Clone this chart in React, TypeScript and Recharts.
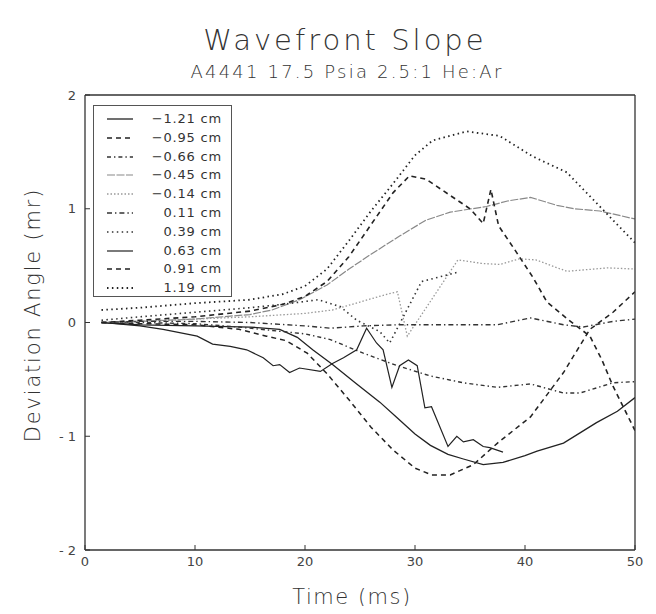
import React from 'react';
import { LineChart, Line, XAxis, YAxis } from 'recharts';

// ---------- data ----------
const xTicks = [0, 10, 20, 30, 40, 50];
const yTicks = [-2, -1, 0, 1, 2];
const seriesNames = ['−1.21 cm', '−0.95 cm', '−0.66 cm', '−0.45 cm', '−0.14 cm', '0.11 cm', '0.39 cm', '0.63 cm', '0.91 cm', '1.19 cm'];

// -1.21 cm (solid, smooth)
const tM121 = [1.5, 5, 10, 15, 17.7, 19.3, 20.7, 22.5, 24.7, 26.8, 28.4, 30, 31.4, 33, 34.4, 36.2, 38, 40, 41.1, 43.5, 45, 46.5, 48.4, 50];
const vM121 = [0, -0.02, -0.03, -0.04, -0.06, -0.13, -0.24, -0.37, -0.54, -0.7, -0.84, -0.98, -1.08, -1.16, -1.2, -1.25, -1.23, -1.17, -1.13, -1.06, -0.97, -0.88, -0.78, -0.66];
// -0.95 cm (dashed, bottom)
const tM095 = [1.5, 5, 10, 14, 16.5, 18.3, 20.2, 22, 24, 26, 28, 30, 31.5, 33.2, 35.3, 37.5, 40.5, 43.5, 45.9, 48, 50];
const vM095 = [0, -0.01, -0.02, -0.06, -0.12, -0.16, -0.27, -0.45, -0.68, -0.92, -1.12, -1.28, -1.34, -1.34, -1.25, -1.06, -0.83, -0.44, -0.06, 0.09, 0.27];
// -0.66 cm (down to -0.55)
const tM066 = [1.5, 5, 10, 14, 18, 20, 22.3, 25.3, 28.4, 31.4, 34.4, 37.5, 40.5, 43.5, 45, 48, 50];
const vM066 = [0, 0, -0.01, -0.04, -0.08, -0.1, -0.15, -0.27, -0.38, -0.47, -0.53, -0.57, -0.54, -0.62, -0.62, -0.53, -0.52];
// -0.45 cm (light)
const tM045 = [1.5, 5, 10, 15, 17, 19.5, 22, 24, 26, 28.6, 31, 33.2, 36.5, 38.5, 40.5, 42.9, 44.5, 46.8, 50];
const vM045 = [0, 0.01, 0.03, 0.07, 0.11, 0.2, 0.33, 0.47, 0.6, 0.76, 0.9, 0.97, 1.02, 1.07, 1.1, 1.03, 1.0, 0.98, 0.91];
// -0.14 cm (light dotted)
const tM014 = [1.5, 5, 10, 15, 20, 22.5, 25, 27.5, 28.4, 29.3, 33.9, 36, 37.7, 39.5, 41, 43.8, 47.5, 50];
const vM014 = [0, 0.01, 0.03, 0.05, 0.08, 0.11, 0.18, 0.25, 0.27, -0.12, 0.55, 0.52, 0.51, 0.56, 0.55, 0.45, 0.48, 0.47];
// 0.11 cm (dash-dot, near zero)
const tP011 = [1.5, 5, 10, 15, 20, 22.3, 25.3, 28.4, 32.9, 37.5, 40.5, 43.5, 45.3, 48, 50];
const vP011 = [0, 0.01, 0.01, 0, -0.03, -0.05, -0.03, -0.02, -0.02, -0.02, 0.04, -0.02, -0.04, 0.01, 0.03];
// 0.39 cm (dotted, zigzag)
const tP039 = [1.5, 5, 10, 15, 18, 21.2, 23.2, 24.7, 26.8, 27.7, 30.6, 33.8];
const vP039 = [0.02, 0.05, 0.09, 0.13, 0.16, 0.2, 0.14, 0.02, -0.08, -0.18, 0.36, 0.44];
// 0.63 cm (solid, jagged)
const tP063 = [1.5, 5, 7.1, 10.2, 11.6, 13.2, 14.7, 16.2, 17.1, 17.7, 18.6, 19.5, 21.4, 22.5, 23.5, 24.7, 25.6, 26.5, 27.1, 27.9, 28.6, 29.4, 30.2, 30.9, 31.5, 33, 33.8, 34.4, 35.3, 36.2, 36.8, 38];
const vP063 = [0, -0.03, -0.06, -0.12, -0.19, -0.21, -0.24, -0.31, -0.38, -0.37, -0.44, -0.4, -0.43, -0.36, -0.31, -0.24, -0.05, -0.18, -0.24, -0.57, -0.38, -0.33, -0.38, -0.75, -0.74, -1.09, -1.0, -1.05, -1.03, -1.09, -1.1, -1.14];
// 0.91 cm (dashed, peak 1.3)
const tP091 = [1.5, 5, 10, 15, 18, 20, 22, 24, 26, 28, 29.5, 31, 33, 35, 36.2, 36.9, 37.6, 39, 40.7, 42, 44, 45.9, 47, 48, 50];
const vP091 = [0, 0.02, 0.05, 0.1, 0.16, 0.23, 0.36, 0.58, 0.86, 1.14, 1.29, 1.26, 1.13, 1.0, 0.87, 1.17, 0.85, 0.65, 0.4, 0.18, 0.02, -0.12, -0.33, -0.56, -0.95];
// 1.19 cm (dotted, peak 1.7)
const tP119 = [1.5, 5, 10, 15, 18, 20, 22, 24, 26, 28, 30, 31.6, 34.7, 37.7, 40.7, 43.8, 46.8, 50];
const vP119 = [0.11, 0.13, 0.17, 0.2, 0.25, 0.32, 0.47, 0.72, 0.98, 1.22, 1.47, 1.6, 1.68, 1.64, 1.46, 1.32, 1.02, 0.7];

const zip = (t: number[], v: number[]) => t.map((x, i) => ({ t: x, v: v[i] }));

const DOT = '1.5 3.4';
const SERIES = [
  { name: seriesNames[0], data: zip(tM121, vM121), stroke: '#222', dash: undefined as string | undefined, w: 1.3 },
  { name: seriesNames[1], data: zip(tM095, vM095), stroke: '#222', dash: '5 4', w: 1.5 },
  { name: seriesNames[2], data: zip(tM066, vM066), stroke: '#333', dash: '4 3 1.4 3', w: 1.4 },
  { name: seriesNames[3], data: zip(tM045, vM045), stroke: '#888', dash: '8 1.5', w: 1.2 },
  { name: seriesNames[4], data: zip(tM014, vM014), stroke: '#999', dash: '1.5 2', w: 1.3 },
  { name: seriesNames[5], data: zip(tP011, vP011), stroke: '#333', dash: '5 3 1.4 3', w: 1.4 },
  { name: seriesNames[6], data: zip(tP039, vP039), stroke: '#333', dash: DOT, w: 1.6 },
  { name: seriesNames[7], data: zip(tP063, vP063), stroke: '#222', dash: undefined, w: 1.2 },
  { name: seriesNames[8], data: zip(tP091, vP091), stroke: '#222', dash: '5 4', w: 1.6 },
  { name: seriesNames[9], data: zip(tP119, vP119), stroke: '#222', dash: DOT, w: 1.8 },
];

const FONT = "'DejaVu Sans', 'Liberation Sans', sans-serif";
const yFmt = (v: number) => (v < 0 ? `- ${-v}` : `${v}`);
const AXIS_LINE = { stroke: '#333', strokeWidth: 1.3 };

export default function App() {
  return (
    <div style={{ position: 'relative', width: 648, height: 598, fontFamily: FONT, color: '#333' }}>
      <div style={{ position: 'absolute', left: 87, width: 500, top: 15, textAlign: 'center', fontSize: 29, lineHeight: '34px', letterSpacing: 3, fontWeight: 200 }}>
        Wavefront Slope
      </div>
      <div style={{ position: 'absolute', left: 39, width: 600, top: 53, textAlign: 'center', fontSize: 18, lineHeight: '22px', letterSpacing: 2.2, fontWeight: 200 }}>
        A4441 17.5 Psia 2.5:1 He:Ar
      </div>
      <div style={{ position: 'absolute', left: 25 - 200, top: 307 - 14, width: 400, textAlign: 'center', fontSize: 21, lineHeight: '28px', letterSpacing: 1.8, fontWeight: 200, transform: 'rotate(-90deg)' }}>
        Deviation Angle (mr)
      </div>
      <div style={{ position: 'absolute', left: 344 - 150, top: 589 - 14, width: 300, textAlign: 'center', fontSize: 21, lineHeight: '28px', letterSpacing: 1.5, fontWeight: 200 }}>
        Time (ms)
      </div>
      <LineChart width={648} height={598} margin={{ top: 86, right: 20, bottom: 26, left: 0 }}>
        <XAxis dataKey="t" type="number" domain={[0, 50]} ticks={xTicks} allowDataOverflow
          stroke="#333" height={30} tickSize={-5} tickMargin={12}
          tick={{ fill: '#444', fontSize: 13, fontFamily: FONT }} axisLine={AXIS_LINE} />
        <XAxis xAxisId="top" dataKey="t" orientation="top" type="number" domain={[0, 50]} ticks={xTicks} height={1}
          allowDataOverflow tickSize={-5} tick={false} stroke="#333" axisLine={AXIS_LINE} />
        <YAxis type="number" domain={[-2, 2]} ticks={yTicks} allowDataOverflow width={77}
          tickSize={-5} tickMargin={14} tickFormatter={yFmt}
          tick={{ fill: '#444', fontSize: 13, fontFamily: FONT }} stroke="#333" axisLine={AXIS_LINE} />
        <YAxis yAxisId="right" orientation="right" type="number" domain={[-2, 2]} ticks={yTicks} width={1}
          allowDataOverflow tickSize={-5} tick={false} stroke="#333" axisLine={AXIS_LINE} />
        {SERIES.map((s) => (
          <Line key={s.name} data={s.data} dataKey="v" name={s.name} type="linear" stroke={s.stroke}
            strokeWidth={s.w} strokeDasharray={s.dash} dot={false} activeDot={false}
            isAnimationActive={false} />
        ))}
        <Line data={SERIES[9].data} dataKey="v" xAxisId="top" yAxisId="right" stroke="none" dot={false}
          activeDot={false} legendType="none" isAnimationActive={false} />
      </LineChart>
      <div style={{ position: 'absolute', left: 85, top: 97, width: 137, height: 190, border: '1px solid #555', background: '#fff' }}>
        {SERIES.map((s, i) => (
          <div key={s.name} style={{ position: 'absolute', left: 0, top: 13 + i * 18.8 - 9, height: 18, width: 137 }}>
            <svg width={30} height={18} style={{ position: 'absolute', left: 13, top: 0 }}>
              <line x1={0} y1={9} x2={26} y2={9} stroke={s.stroke} strokeWidth={s.w} strokeDasharray={s.dash} />
            </svg>
            <div style={{ position: 'absolute', right: 9, top: 0, lineHeight: '18px', fontSize: 13, letterSpacing: 0.8, color: '#333' }}>
              {s.name}
            </div>
          </div>
        ))}
      </div>
    </div>
  );
}
